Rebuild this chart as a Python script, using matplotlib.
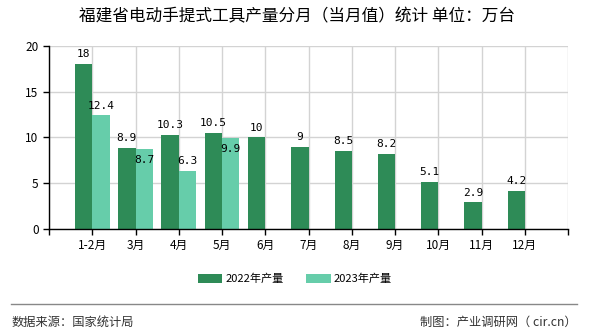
import matplotlib.pyplot as plt
import numpy as np

plt.rcParams['font.family'] = ['Noto Sans CJK SC', 'DejaVu Sans']

months = ['1-2月', '3月', '4月', '5月', '6月', '7月', '8月', '9月', '10月', '11月', '12月']
prod_2022 = [18, 8.9, 10.3, 10.5, 10, 9, 8.5, 8.2, 5.1, 2.9, 4.2]
prod_2023 = [12.4, 8.7, 6.3, 9.9]

c22 = '#2e8b57'
c23 = '#66cdaa'

fig = plt.figure(figsize=(5.9, 3.3), dpi=100)
ax = fig.add_axes([0.083, 0.306, 0.88, 0.555])

x = np.arange(len(months))
w = 0.4
ax.bar(x - w / 2, prod_2022, width=w, color=c22, label='2022年产量', zorder=2)
ax.bar(x[:len(prod_2023)] + w / 2, prod_2023, width=w, color=c23, label='2023年产量', zorder=2)

# value labels
for xi, v in zip(x, prod_2022):
    ax.annotate(f'{v:g}', (xi - w / 2, v), xytext=(0, 3.5), textcoords='offset points',
                ha='center', va='bottom', fontsize=8, family='DejaVu Sans Mono')
# 2023 labels: some tucked inside the bar to avoid overlap
offs = [3.5, -11.5, 3.5, -11.5]
for xi, v, o in zip(x, prod_2023, offs):
    ax.annotate(f'{v:g}', (xi + w / 2, v), xytext=(0, o), textcoords='offset points',
                ha='center', va='bottom', fontsize=8, family='DejaVu Sans Mono')

ax.set_xlim(-1, len(months))
ax.set_ylim(0, 20)
ax.set_yticks([0, 5, 10, 15, 20])
ax.set_xticks(np.arange(-1, len(months) + 1))
ax.set_xticklabels([''] + months + [''])
ax.tick_params(labelsize=8.5, length=4, width=1, colors='black')
ax.grid(True, color='#d3d3d3', linewidth=1, zorder=0)
ax.set_axisbelow(True)
for s in ['top', 'right']:
    ax.spines[s].set_visible(False)
ax.spines['left'].set_linewidth(1)
ax.spines['bottom'].set_linewidth(1)

fig.text(0.503, 0.948, '福建省电动手提式工具产量分月（当月值）统计 单位：万台',
         ha='center', va='center', fontsize=12)

fig.legend(loc='center', bbox_to_anchor=(0.5, 0.155), ncol=2, frameon=False,
           fontsize=8, handlelength=2.2, handleheight=0.9, columnspacing=2.0,
           handletextpad=0.3)

fig.add_artist(plt.Line2D([0.018, 0.978], [0.079, 0.079], color='#888888', linewidth=1))
fig.text(0.02, 0.022, '数据来源：国家统计局', ha='left', va='center', fontsize=8.8, color='#333333')
fig.text(0.978, 0.022, '制图：产业调研网（ cir.cn）', ha='right', va='center', fontsize=8.8, color='#333333')

fig.savefig('out.png', dpi=100)
